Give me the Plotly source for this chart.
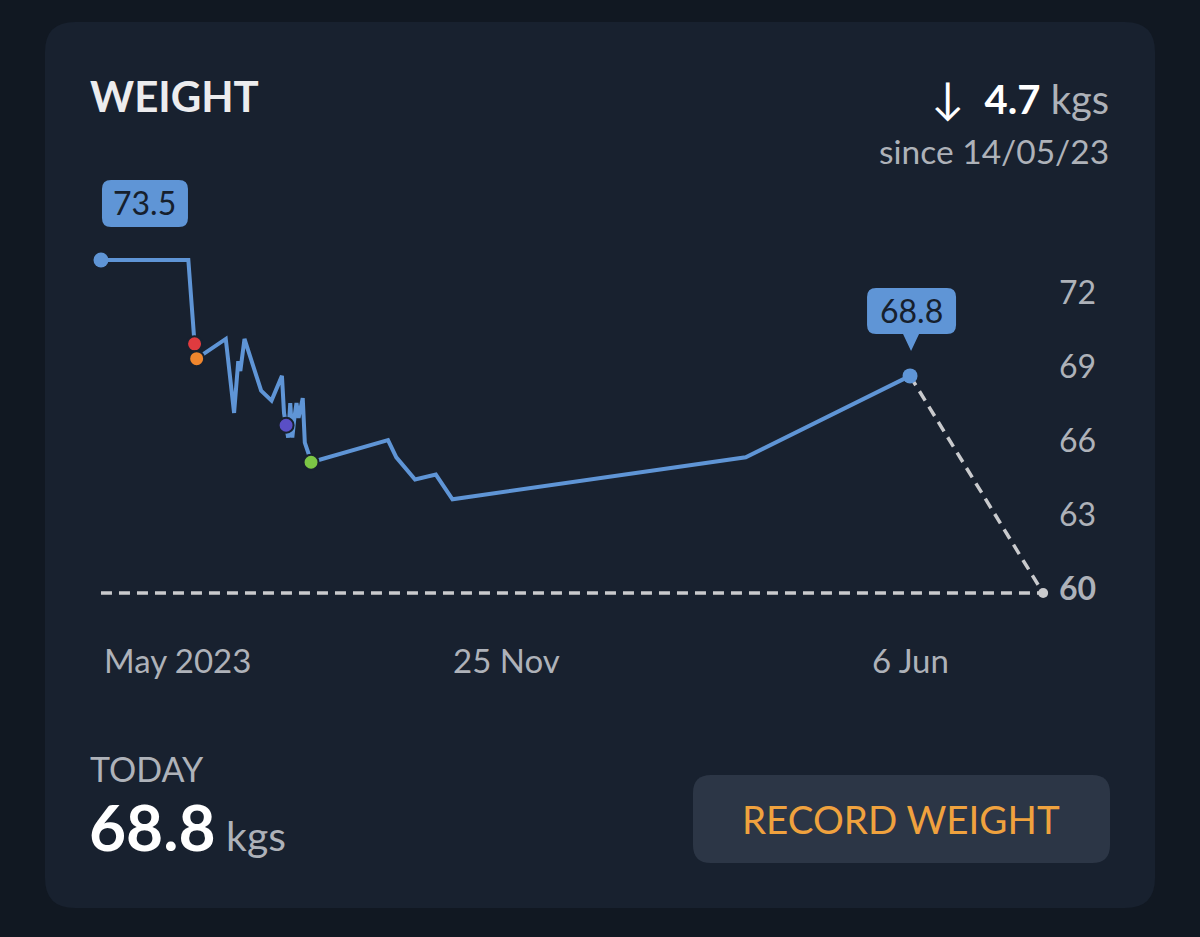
import plotly.graph_objects as go

# ---------------- data ----------------
dates = ["2023-05-14", "2023-06-25", "2023-06-28", "2023-06-29", "2023-07-13",
         "2023-07-17", "2023-07-19", "2023-07-20", "2023-07-22", "2023-07-30",
         "2023-08-04", "2023-08-09", "2023-08-10", "2023-08-11", "2023-08-12",
         "2023-08-13", "2023-08-14", "2023-08-15", "2023-08-16", "2023-08-17",
         "2023-08-18", "2023-08-19", "2023-08-20", "2023-08-21", "2023-08-22",
         "2023-08-23", "2023-09-29", "2023-10-03", "2023-10-12", "2023-10-22",
         "2023-10-30", "2024-03-19", "2024-06-06"]
weights = [73.5, 73.5, 70.1, 69.5, 70.3,
           67.3, 69.4, 69.0, 70.3, 68.2,
           67.8, 68.8, 67.3, 66.8, 66.3,
           67.7, 66.3, 67.1, 67.7, 67.1,
           67.6, 67.9, 66.1, 65.9, 65.6,
           65.3, 66.2, 65.5, 64.6, 64.8,
           63.8, 65.5, 68.8]

milestone_dates = ["2023-06-28", "2023-06-29", "2023-08-11", "2023-08-23"]
milestone_values = [70.1, 69.5, 66.8, 65.3]
milestone_colors = ["#e03b3f", "#f0862d", "#5a4fc6", "#7cc645"]

goal_value = 60
goal_date = "2024-08-09"
start_label = "73.5"
today_label = "68.8"

y_ticks = [60, 63, 66, 69, 72]
y_ticktext = ["<b>60</b>", "63", "66", "69", "72"]
x_label_dates = ["2023-05-14", "2023-11-25", "2024-06-06"]
x_label_text = ["May 2023", "25 Nov", "6 Jun"]

W, H = 1200, 937
PAGE = "#111822"
CARD = "#18212f"
BLUE = "#5f95d6"
GREY = "#c9cacd"
TXT_GREY = "#aeb2b9"
FONT = "Lato"


def fx(x):
    return x / W


def fy(y):
    return 1 - y / H


def rrect_paper(x0, y0, x1, y1, r):
    def p(x, y):
        return f"{fx(x):.5f},{fy(y):.5f}"
    return (f"M {p(x0 + r, y0)} L {p(x1 - r, y0)} Q {p(x1, y0)} {p(x1, y0 + r)} "
            f"L {p(x1, y1 - r)} Q {p(x1, y1)} {p(x1 - r, y1)} "
            f"L {p(x0 + r, y1)} Q {p(x0, y1)} {p(x0, y1 - r)} "
            f"L {p(x0, y0 + r)} Q {p(x0, y0)} {p(x0 + r, y0)} Z")


def bubble_pixels(x0, x1, ybot, ytop, r, tail=None):
    # pixel path relative to an anchor point; y positive = up
    d = (f"M {x0 + r},{ytop} L {x1 - r},{ytop} Q {x1},{ytop} {x1},{ytop - r} "
         f"L {x1},{ybot + r} Q {x1},{ybot} {x1 - r},{ybot} ")
    if tail is not None:
        tx, tw, tip = tail
        d += f"L {tx + tw},{ybot} L {tx},{tip} L {tx - tw},{ybot} "
    d += (f"L {x0 + r},{ybot} Q {x0},{ybot} {x0},{ybot + r} "
          f"L {x0},{ytop - r} Q {x0},{ytop} {x0 + r},{ytop} Z")
    return d


fig = go.Figure()

# goal lines
fig.add_trace(go.Scatter(x=[dates[0], goal_date], y=[goal_value, goal_value],
                         mode="lines", line=dict(color=GREY, width=3.5, dash="11px,7px"),
                         hoverinfo="skip", showlegend=False, cliponaxis=False))
fig.add_trace(go.Scatter(x=[dates[-1], goal_date], y=[weights[-1], goal_value],
                         mode="lines", line=dict(color=GREY, width=3.5, dash="11px,7px"),
                         hoverinfo="skip", showlegend=False, cliponaxis=False))
fig.add_trace(go.Scatter(x=[goal_date], y=[goal_value], mode="markers",
                         marker=dict(color=GREY, size=10), showlegend=False,
                         cliponaxis=False))

# main line
fig.add_trace(go.Scatter(x=dates, y=weights, mode="lines",
                         line=dict(color=BLUE, width=4), showlegend=False,
                         cliponaxis=False))
# endpoints
fig.add_trace(go.Scatter(x=[dates[0], dates[-1]], y=[weights[0], weights[-1]],
                         mode="markers", marker=dict(color=BLUE, size=15),
                         showlegend=False, cliponaxis=False))
# milestones
fig.add_trace(go.Scatter(x=milestone_dates, y=milestone_values, mode="markers",
                         marker=dict(color=milestone_colors, size=15,
                                     line=dict(color=CARD, width=2)),
                         showlegend=False, cliponaxis=False))

annotations = []
# value callouts (text only, bubbles are shapes)
annotations.append(dict(x=dates[0], y=weights[0], xref="x", yref="y",
                        text=start_label, showarrow=False, xanchor="center",
                        xshift=44, yshift=57,
                        font=dict(family=FONT, size=32, color="#16202d")))
annotations.append(dict(x=dates[-1], y=weights[-1], xref="x", yref="y",
                        text=today_label, showarrow=False, xanchor="center",
                        xshift=1, yshift=65,
                        font=dict(family=FONT, size=32, color="#16202d")))
# x labels
for i, (d, t) in enumerate(zip(x_label_dates, x_label_text)):
    annotations.append(dict(x=d, y=fy(660), xref="x", yref="paper", text=t,
                            showarrow=False, xanchor="left" if i == 0 else "center",
                            yanchor="middle", xshift=1 if i == 0 else 0,
                            font=dict(family=FONT, size=33, color=TXT_GREY)))
# header texts
annotations += [
    dict(x=fx(88), y=fy(96), xref="paper", yref="paper", text="<b>WEIGHT</b>",
         showarrow=False, xanchor="left", yanchor="middle",
         font=dict(family=FONT, size=42, color="#ececee")),
    dict(x=fx(1111), y=fy(97), xref="paper", yref="paper",
         text="<span style='color:#ffffff;font-size:44px'>↓</span>"
              "<span style='color:#ffffff'>  <b>4.7</b></span> kgs",
         showarrow=False, xanchor="right", yanchor="middle",
         font=dict(family=FONT, size=40, color=TXT_GREY)),
    dict(x=fx(1111), y=fy(151), xref="paper", yref="paper", text="since 14/05/23",
         showarrow=False, xanchor="right", yanchor="middle",
         font=dict(family=FONT, size=33.5, color=TXT_GREY)),
    dict(x=fx(88), y=fy(768), xref="paper", yref="paper", text="TODAY",
         showarrow=False, xanchor="left", yanchor="middle",
         font=dict(family=FONT, size=34, color=TXT_GREY)),
    dict(x=fx(87), y=fy(826), xref="paper", yref="paper",
         text="<span style='font-size:64px;color:#ffffff'><b>68.8</b></span> kgs",
         showarrow=False, xanchor="left", yanchor="middle",
         font=dict(family=FONT, size=41, color=TXT_GREY)),
    dict(x=fx(901), y=fy(819), xref="paper", yref="paper", text="RECORD WEIGHT",
         showarrow=False, xanchor="center", yanchor="middle",
         font=dict(family=FONT, size=38.5, color="#f0a23e")),
]

shapes = [
    dict(type="path", path=rrect_paper(45, 22, 1155, 908, 30), xref="paper", yref="paper",
         fillcolor=CARD, line=dict(width=0), layer="below"),
    dict(type="path", path=rrect_paper(693, 775, 1110, 863, 18), xref="paper", yref="paper",
         fillcolor="#2c3646", line=dict(width=0), layer="below"),
    # callout bubbles anchored to the data points
    dict(type="path", xref="x", yref="y", xsizemode="pixel", ysizemode="pixel",
         xanchor=dates[0], yanchor=weights[0],
         path=bubble_pixels(1, 87, 33, 80, 9), fillcolor=BLUE,
         line=dict(width=0), layer="above"),
    dict(type="path", xref="x", yref="y", xsizemode="pixel", ysizemode="pixel",
         xanchor=dates[-1], yanchor=weights[-1],
         path=bubble_pixels(-43, 46, 42, 88, 9, tail=(1, 8, 25)), fillcolor=BLUE,
         line=dict(width=0), layer="above"),
]

fig.update_layout(
    width=W, height=H,
    margin=dict(l=0, r=0, t=0, b=0, autoexpand=False),
    paper_bgcolor=PAGE, plot_bgcolor="rgba(0,0,0,0)",
    showlegend=False,
    annotations=annotations,
    shapes=shapes,
    xaxis=dict(domain=[fx(95), fx(1050)], type="date",
               range=["2023-05-11 03:00", "2024-08-12 07:00"],
               showgrid=False, zeroline=False, showticklabels=False,
               showline=False, fixedrange=True, automargin=False),
    yaxis=dict(domain=[fy(605), fy(170)], range=[59.514, 77.146],
               side="right", tickvals=y_ticks, ticktext=y_ticktext,
               showgrid=False, zeroline=False, showline=False, ticks="",
               ticklabelstandoff=8, ticklabelshift=-4, automargin=False,
               tickfont=dict(family=FONT, size=32, color=TXT_GREY)),
)

fig.write_html("out.html")
